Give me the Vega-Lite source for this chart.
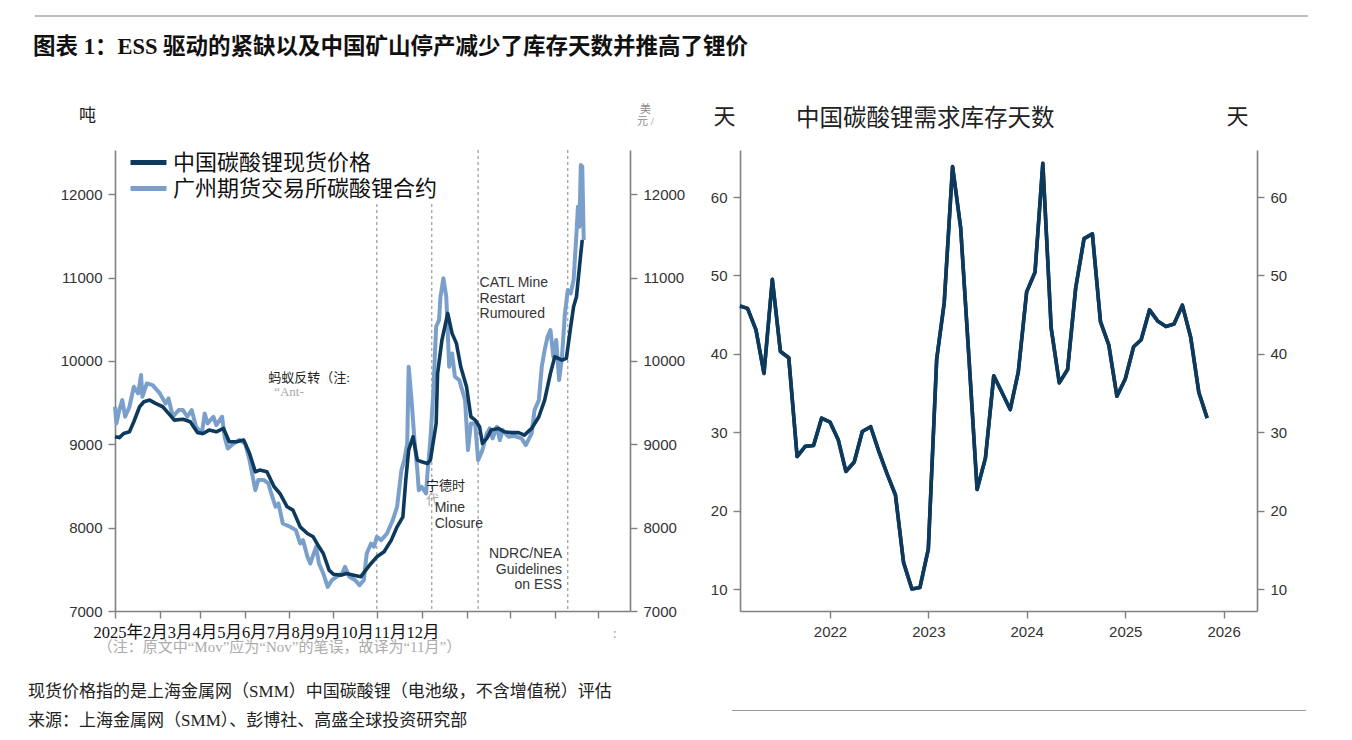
{
  "$schema": "https://vega.github.io/schema/vega-lite/v6.json",
  "background": "white",
  "padding": {"left": 28, "top": 15, "right": 0, "bottom": 0},
  "spacing": 44,
  "resolve": {"scale": {"color": "independent"}, "legend": {"color": "independent"}},
  "config": {
    "view": {"stroke": null},
    "axis": {
      "domainColor": "#808080", "domainWidth": 1.6,
      "tickColor": "#808080", "tickWidth": 1.4, "tickSize": 7,
      "labelFont": "Liberation Sans", "labelFontSize": 15, "labelColor": "#333333", "labelPadding": 6,
      "grid": false,
      "titleFont": "Liberation Serif, Noto Sans CJK SC", "titleFontWeight": "normal", "titleColor": "#222222"
    }
  },
  "datasets": {
    "spot": [
      {"date": "2025-01-01", "price": 9090}, {"date": "2025-01-04", "price": 9080}, {"date": "2025-01-07", "price": 9130},
      {"date": "2025-01-11", "price": 9150}, {"date": "2025-01-14", "price": 9270}, {"date": "2025-01-18", "price": 9450},
      {"date": "2025-01-21", "price": 9510}, {"date": "2025-01-25", "price": 9530}, {"date": "2025-01-29", "price": 9490},
      {"date": "2025-02-03", "price": 9450}, {"date": "2025-02-07", "price": 9370}, {"date": "2025-02-11", "price": 9290},
      {"date": "2025-02-17", "price": 9300}, {"date": "2025-02-22", "price": 9270}, {"date": "2025-02-27", "price": 9140},
      {"date": "2025-03-03", "price": 9130}, {"date": "2025-03-07", "price": 9170}, {"date": "2025-03-12", "price": 9150},
      {"date": "2025-03-17", "price": 9190}, {"date": "2025-03-21", "price": 9030}, {"date": "2025-03-26", "price": 9030},
      {"date": "2025-03-31", "price": 9050}, {"date": "2025-04-04", "price": 8890}, {"date": "2025-04-08", "price": 8670},
      {"date": "2025-04-11", "price": 8690}, {"date": "2025-04-16", "price": 8670}, {"date": "2025-04-21", "price": 8490},
      {"date": "2025-04-25", "price": 8410}, {"date": "2025-04-30", "price": 8250}, {"date": "2025-05-04", "price": 8210},
      {"date": "2025-05-09", "price": 8010}, {"date": "2025-05-14", "price": 7930}, {"date": "2025-05-18", "price": 7890},
      {"date": "2025-05-22", "price": 7770}, {"date": "2025-05-25", "price": 7690}, {"date": "2025-05-29", "price": 7490},
      {"date": "2025-06-01", "price": 7440}, {"date": "2025-06-06", "price": 7430}, {"date": "2025-06-10", "price": 7450},
      {"date": "2025-06-15", "price": 7430}, {"date": "2025-06-20", "price": 7410}, {"date": "2025-06-22", "price": 7460},
      {"date": "2025-06-27", "price": 7570}, {"date": "2025-07-01", "price": 7650}, {"date": "2025-07-06", "price": 7710},
      {"date": "2025-07-11", "price": 7850}, {"date": "2025-07-15", "price": 8010}, {"date": "2025-07-19", "price": 8130},
      {"date": "2025-07-21", "price": 8570}, {"date": "2025-07-23", "price": 8930}, {"date": "2025-07-26", "price": 9090},
      {"date": "2025-07-29", "price": 8810}, {"date": "2025-08-01", "price": 8790}, {"date": "2025-08-05", "price": 8770},
      {"date": "2025-08-07", "price": 8810}, {"date": "2025-08-11", "price": 9250}, {"date": "2025-08-12", "price": 9850},
      {"date": "2025-08-15", "price": 10250}, {"date": "2025-08-19", "price": 10570}, {"date": "2025-08-22", "price": 10330},
      {"date": "2025-08-25", "price": 10210}, {"date": "2025-08-28", "price": 9930}, {"date": "2025-09-01", "price": 9690},
      {"date": "2025-09-04", "price": 9330}, {"date": "2025-09-07", "price": 9290}, {"date": "2025-09-10", "price": 9210},
      {"date": "2025-09-12", "price": 9010}, {"date": "2025-09-15", "price": 9070}, {"date": "2025-09-18", "price": 9170},
      {"date": "2025-09-23", "price": 9190}, {"date": "2025-09-27", "price": 9150}, {"date": "2025-10-02", "price": 9140},
      {"date": "2025-10-07", "price": 9140}, {"date": "2025-10-11", "price": 9110}, {"date": "2025-10-16", "price": 9190},
      {"date": "2025-10-21", "price": 9330}, {"date": "2025-10-25", "price": 9530}, {"date": "2025-10-29", "price": 9850},
      {"date": "2025-11-01", "price": 10050}, {"date": "2025-11-06", "price": 10010}, {"date": "2025-11-09", "price": 10030},
      {"date": "2025-11-12", "price": 10410}, {"date": "2025-11-14", "price": 10650}, {"date": "2025-11-16", "price": 10770},
      {"date": "2025-11-19", "price": 11290}, {"date": "2025-11-20", "price": 11450}
    ],
    "futures": [
      {"date": "2025-01-01", "price": 9450}, {"date": "2025-01-02", "price": 9250}, {"date": "2025-01-04", "price": 9410},
      {"date": "2025-01-06", "price": 9530}, {"date": "2025-01-08", "price": 9330}, {"date": "2025-01-11", "price": 9450},
      {"date": "2025-01-14", "price": 9690}, {"date": "2025-01-17", "price": 9610}, {"date": "2025-01-19", "price": 9830},
      {"date": "2025-01-20", "price": 9570}, {"date": "2025-01-23", "price": 9730}, {"date": "2025-01-27", "price": 9710},
      {"date": "2025-02-01", "price": 9610}, {"date": "2025-02-05", "price": 9490}, {"date": "2025-02-07", "price": 9550},
      {"date": "2025-02-10", "price": 9330}, {"date": "2025-02-14", "price": 9410}, {"date": "2025-02-17", "price": 9410},
      {"date": "2025-02-20", "price": 9330}, {"date": "2025-02-23", "price": 9410}, {"date": "2025-02-26", "price": 9210},
      {"date": "2025-03-02", "price": 9130}, {"date": "2025-03-04", "price": 9370}, {"date": "2025-03-06", "price": 9250},
      {"date": "2025-03-10", "price": 9330}, {"date": "2025-03-12", "price": 9230}, {"date": "2025-03-16", "price": 9330},
      {"date": "2025-03-18", "price": 9070}, {"date": "2025-03-20", "price": 8950}, {"date": "2025-03-24", "price": 9010},
      {"date": "2025-03-28", "price": 9050}, {"date": "2025-04-01", "price": 9010}, {"date": "2025-04-04", "price": 8810},
      {"date": "2025-04-08", "price": 8450}, {"date": "2025-04-10", "price": 8570}, {"date": "2025-04-14", "price": 8570},
      {"date": "2025-04-17", "price": 8530}, {"date": "2025-04-19", "price": 8410}, {"date": "2025-04-22", "price": 8250},
      {"date": "2025-04-24", "price": 8290}, {"date": "2025-04-27", "price": 8050}, {"date": "2025-05-02", "price": 8010},
      {"date": "2025-05-06", "price": 7970}, {"date": "2025-05-09", "price": 7810}, {"date": "2025-05-11", "price": 7850},
      {"date": "2025-05-14", "price": 7650}, {"date": "2025-05-16", "price": 7570}, {"date": "2025-05-20", "price": 7770},
      {"date": "2025-05-22", "price": 7570}, {"date": "2025-05-25", "price": 7450}, {"date": "2025-05-28", "price": 7290},
      {"date": "2025-05-31", "price": 7370}, {"date": "2025-06-03", "price": 7410}, {"date": "2025-06-07", "price": 7450},
      {"date": "2025-06-09", "price": 7530}, {"date": "2025-06-12", "price": 7410}, {"date": "2025-06-16", "price": 7370},
      {"date": "2025-06-19", "price": 7310}, {"date": "2025-06-22", "price": 7370}, {"date": "2025-06-24", "price": 7690},
      {"date": "2025-06-27", "price": 7810}, {"date": "2025-06-29", "price": 7770}, {"date": "2025-07-01", "price": 7890},
      {"date": "2025-07-04", "price": 7850}, {"date": "2025-07-08", "price": 7930}, {"date": "2025-07-12", "price": 8090},
      {"date": "2025-07-15", "price": 8250}, {"date": "2025-07-18", "price": 8690}, {"date": "2025-07-20", "price": 8810},
      {"date": "2025-07-22", "price": 9010}, {"date": "2025-07-23", "price": 9930}, {"date": "2025-07-25", "price": 9530},
      {"date": "2025-07-27", "price": 9050}, {"date": "2025-07-29", "price": 8690}, {"date": "2025-07-30", "price": 8450},
      {"date": "2025-08-01", "price": 8490}, {"date": "2025-08-04", "price": 8410}, {"date": "2025-08-05", "price": 8650},
      {"date": "2025-08-07", "price": 9050}, {"date": "2025-08-09", "price": 9610}, {"date": "2025-08-11", "price": 10410},
      {"date": "2025-08-13", "price": 10490}, {"date": "2025-08-14", "price": 10770}, {"date": "2025-08-16", "price": 10990},
      {"date": "2025-08-18", "price": 10770}, {"date": "2025-08-20", "price": 9930}, {"date": "2025-08-22", "price": 10090},
      {"date": "2025-08-24", "price": 9810}, {"date": "2025-08-27", "price": 9770}, {"date": "2025-08-31", "price": 9530},
      {"date": "2025-09-02", "price": 8930}, {"date": "2025-09-04", "price": 9250}, {"date": "2025-09-07", "price": 9250},
      {"date": "2025-09-09", "price": 8810}, {"date": "2025-09-12", "price": 8930}, {"date": "2025-09-15", "price": 9130},
      {"date": "2025-09-17", "price": 9190}, {"date": "2025-09-19", "price": 9070}, {"date": "2025-09-22", "price": 9210},
      {"date": "2025-09-24", "price": 9050}, {"date": "2025-09-26", "price": 9170}, {"date": "2025-09-30", "price": 9090},
      {"date": "2025-10-04", "price": 9100}, {"date": "2025-10-09", "price": 9070}, {"date": "2025-10-12", "price": 8990},
      {"date": "2025-10-16", "price": 9130}, {"date": "2025-10-18", "price": 9410}, {"date": "2025-10-21", "price": 9530},
      {"date": "2025-10-23", "price": 9930}, {"date": "2025-10-25", "price": 10130}, {"date": "2025-10-27", "price": 10290},
      {"date": "2025-10-29", "price": 10370}, {"date": "2025-10-31", "price": 10050}, {"date": "2025-11-02", "price": 10250},
      {"date": "2025-11-04", "price": 9770}, {"date": "2025-11-06", "price": 10050}, {"date": "2025-11-08", "price": 10570},
      {"date": "2025-11-10", "price": 10850}, {"date": "2025-11-12", "price": 10810}, {"date": "2025-11-14", "price": 10970},
      {"date": "2025-11-16", "price": 11530}, {"date": "2025-11-17", "price": 11850}, {"date": "2025-11-18", "price": 11610},
      {"date": "2025-11-19", "price": 12350}, {"date": "2025-11-20", "price": 12330}, {"date": "2025-11-21", "price": 11450}
    ],
    "events": [
      {"date": "2025-07-01"}, {"date": "2025-08-08"}, {"date": "2025-09-09"}, {"date": "2025-11-10"}
    ],
    "inventory": [
      {"month": "2021-02-01", "days": 46.1}, {"month": "2021-03-01", "days": 45.8}, {"month": "2021-04-01", "days": 43.1},
      {"month": "2021-05-01", "days": 37.5}, {"month": "2021-06-01", "days": 49.5}, {"month": "2021-07-01", "days": 40.3},
      {"month": "2021-08-01", "days": 39.5}, {"month": "2021-09-01", "days": 26.9}, {"month": "2021-10-01", "days": 28.2},
      {"month": "2021-11-01", "days": 28.3}, {"month": "2021-12-01", "days": 31.8}, {"month": "2022-01-01", "days": 31.3},
      {"month": "2022-02-01", "days": 29.0}, {"month": "2022-03-01", "days": 25.0}, {"month": "2022-04-01", "days": 26.2},
      {"month": "2022-05-01", "days": 30.1}, {"month": "2022-06-01", "days": 30.7}, {"month": "2022-07-01", "days": 27.6},
      {"month": "2022-08-01", "days": 24.7}, {"month": "2022-09-01", "days": 22.0}, {"month": "2022-10-01", "days": 13.4},
      {"month": "2022-11-01", "days": 10.0}, {"month": "2022-12-01", "days": 10.2}, {"month": "2023-01-01", "days": 15.1},
      {"month": "2023-02-01", "days": 39.3}, {"month": "2023-03-01", "days": 46.5}, {"month": "2023-04-01", "days": 63.9},
      {"month": "2023-05-01", "days": 56.1}, {"month": "2023-06-01", "days": 39.4}, {"month": "2023-07-01", "days": 22.7},
      {"month": "2023-08-01", "days": 26.7}, {"month": "2023-09-01", "days": 37.2}, {"month": "2023-10-01", "days": 35.1},
      {"month": "2023-11-01", "days": 32.9}, {"month": "2023-12-01", "days": 37.7}, {"month": "2024-01-01", "days": 47.9},
      {"month": "2024-02-01", "days": 50.4}, {"month": "2024-03-01", "days": 64.3}, {"month": "2024-04-01", "days": 43.3},
      {"month": "2024-05-01", "days": 36.3}, {"month": "2024-06-01", "days": 38.0}, {"month": "2024-07-01", "days": 48.4},
      {"month": "2024-08-01", "days": 54.7}, {"month": "2024-09-01", "days": 55.3}, {"month": "2024-10-01", "days": 44.1},
      {"month": "2024-11-01", "days": 41.1}, {"month": "2024-12-01", "days": 34.6}, {"month": "2025-01-01", "days": 36.8},
      {"month": "2025-02-01", "days": 40.9}, {"month": "2025-03-01", "days": 41.8}, {"month": "2025-04-01", "days": 45.6},
      {"month": "2025-05-01", "days": 44.2}, {"month": "2025-06-01", "days": 43.5}, {"month": "2025-07-01", "days": 43.8},
      {"month": "2025-08-01", "days": 46.2}, {"month": "2025-09-01", "days": 42.1}, {"month": "2025-10-01", "days": 35.1},
      {"month": "2025-11-01", "days": 31.8}
    ]
  },
  "vconcat": [
    {
      "width": 1193,
      "height": 38,
      "layer": [
        {
          "data": {"values": [{}]},
          "mark": {"type": "rule", "color": "#a8a8a8", "strokeWidth": 1.5},
          "encoding": {
            "x": {"datum": -0.0671, "type": "quantitative", "scale": {"domain": [0, 1]}, "axis": null},
            "x2": {"datum": 1},
            "y": {"datum": 1, "type": "quantitative", "scale": {"domain": [0, 1]}, "axis": null}
          }
        },
        {
          "data": {"values": [{"caption": "图表 1：ESS 驱动的紧缺以及中国矿山停产减少了库存天数并推高了锂价"}]},
          "mark": {"type": "text", "align": "left", "baseline": "alphabetic", "font": "Liberation Serif, Noto Sans CJK SC", "fontSize": 22.5, "fontWeight": "bold", "color": "#111111"},
          "encoding": {
            "text": {"field": "caption"},
            "x": {"datum": -0.0687, "type": "quantitative", "scale": {"domain": [0, 1]}, "axis": null},
            "y": {"datum": 0, "type": "quantitative", "scale": {"domain": [0, 1]}, "axis": null}
          }
        }
      ]
    },
    {
      "spacing": 21,
      "resolve": {"scale": {"color": "independent"}, "legend": {"color": "independent"}},
      "vconcat": [
        {
          "spacing": 25,
          "resolve": {"scale": {"color": "independent"}, "legend": {"color": "independent"}},
          "hconcat": [
            {
              "width": 515,
              "height": 461,
              "layer": [
                {
                  "layer": [
                    {
                      "data": {"name": "events"},
                      "mark": {"type": "rule", "strokeDash": [3, 3], "color": "#858585", "strokeWidth": 1},
                      "encoding": {
                        "x": {
                          "field": "date", "type": "temporal",
                          "scale": {"type": "utc", "domain": [{"year": 2025, "month": 1, "date": 1, "utc": true}, {"year": 2025, "month": 12, "date": 23, "utc": true}]},
                          "axis": {
                            "tickCount": {"interval": "month", "step": 1}, "labels": false,
                            "title": "2025年2月3月4月5月6月7月8月9月10月11月12月",
                            "titleX": -22, "titleY": 21, "titleAlign": "left", "titleAnchor": "start", "titleBaseline": "middle",
                            "titleFontSize": 16.5, "titleColor": "#111111"
                          }
                        }
                      }
                    },
                    {
                      "data": {"name": "futures"},
                      "mark": {"type": "line", "strokeWidth": 4, "strokeJoin": "round"},
                      "encoding": {
                        "x": {"field": "date", "type": "temporal", "scale": {"type": "utc", "domain": [{"year": 2025, "month": 1, "date": 1, "utc": true}, {"year": 2025, "month": 12, "date": 23, "utc": true}]}},
                        "y": {
                          "field": "price", "type": "quantitative",
                          "scale": {"domain": [7000, 12530], "nice": false, "zero": false},
                          "axis": {
                            "orient": "right", "values": [7000, 8000, 9000, 10000, 11000, 12000], "format": "d",
                            "title": ["美", "元 /"], "titleAngle": 0, "titleX": 15, "titleY": -47, "titleAlign": "center", "titleBaseline": "top",
                            "titleFontSize": 11, "titleColor": "#8a8a8a", "titleLineHeight": 12
                          }
                        },
                        "color": {
                          "datum": "广州期货交易所碳酸锂合约",
                          "scale": {"domain": ["中国碳酸锂现货价格", "广州期货交易所碳酸锂合约"], "range": ["#0d3a5c", "#7a9fcb"]},
                          "legend": {
                            "orient": "none", "legendX": 23, "legendY": -3, "title": null,
                            "symbolType": "M-2.09,0H1.18", "symbolSize": 484, "symbolStrokeWidth": 5,
                            "labelFont": "Noto Sans CJK SC", "labelFontSize": 22, "labelColor": "#111111", "labelOffset": 6, "labelLimit": 400,
                            "rowPadding": 1, "padding": 2, "fillColor": "white", "strokeColor": null, "zindex": 1
                          }
                        }
                      }
                    }
                  ]
                },
                {
                  "layer": [
                    {
                      "data": {"name": "spot"},
                      "mark": {"type": "line", "strokeWidth": 3.6, "strokeJoin": "round"},
                      "encoding": {
                        "x": {"field": "date", "type": "temporal", "scale": {"type": "utc", "domain": [{"year": 2025, "month": 1, "date": 1, "utc": true}, {"year": 2025, "month": 12, "date": 23, "utc": true}]}},
                        "y": {
                          "field": "price", "type": "quantitative",
                          "scale": {"domain": [7000, 12530], "nice": false, "zero": false},
                          "axis": {
                            "orient": "left", "values": [7000, 8000, 9000, 10000, 11000, 12000], "format": "d",
                            "title": "吨", "titleAngle": 0, "titleX": -28, "titleY": -35, "titleAlign": "center", "titleBaseline": "middle",
                            "titleFontSize": 17
                          }
                        },
                        "color": {
                          "datum": "中国碳酸锂现货价格",
                          "scale": {"domain": ["中国碳酸锂现货价格", "广州期货交易所碳酸锂合约"], "range": ["#0d3a5c", "#7a9fcb"]}
                        }
                      }
                    },
                    {
                      "data": {"values": [
                        {"date": "2025-04-17", "price": 9794, "note": "蚂蚁反转（注:"},
                        {"date": "2025-08-04", "price": 8499, "note": "宁德时"}
                      ]},
                      "mark": {"type": "text", "align": "left", "baseline": "middle", "font": "Liberation Serif, Noto Sans CJK SC", "fontSize": 13, "color": "#222222"},
                      "encoding": {
                        "x": {"field": "date", "type": "temporal", "scale": {"type": "utc", "domain": [{"year": 2025, "month": 1, "date": 1, "utc": true}, {"year": 2025, "month": 12, "date": 23, "utc": true}]}},
                        "y": {"field": "price", "type": "quantitative", "scale": {"domain": [7000, 12530], "nice": false, "zero": false}},
                        "text": {"field": "note"}
                      }
                    },
                    {
                      "data": {"values": [
                        {"date": "2025-04-21", "price": 9626, "note": "“Ant-"},
                        {"date": "2025-08-04", "price": 8330, "note": "代"}
                      ]},
                      "mark": {"type": "text", "align": "left", "baseline": "middle", "font": "Liberation Serif, Noto Sans CJK SC", "fontSize": 13, "color": "#a8a8a8"},
                      "encoding": {
                        "x": {"field": "date", "type": "temporal", "scale": {"type": "utc", "domain": [{"year": 2025, "month": 1, "date": 1, "utc": true}, {"year": 2025, "month": 12, "date": 23, "utc": true}]}},
                        "y": {"field": "price", "type": "quantitative", "scale": {"domain": [7000, 12530], "nice": false, "zero": false}},
                        "text": {"field": "note"}
                      }
                    },
                    {
                      "data": {"values": [
                        {"date": "2025-09-10", "price": 11017, "note": "CATL Mine\nRestart\nRumoured"},
                        {"date": "2025-08-10", "price": 8319, "note": "Mine\nClosure"}
                      ]},
                      "mark": {"type": "text", "align": "left", "baseline": "top", "lineBreak": "\n", "lineHeight": 15.5, "font": "Liberation Sans", "fontSize": 14, "color": "#333333"},
                      "encoding": {
                        "x": {"field": "date", "type": "temporal", "scale": {"type": "utc", "domain": [{"year": 2025, "month": 1, "date": 1, "utc": true}, {"year": 2025, "month": 12, "date": 23, "utc": true}]}},
                        "y": {"field": "price", "type": "quantitative", "scale": {"domain": [7000, 12530], "nice": false, "zero": false}},
                        "text": {"field": "note"}
                      }
                    },
                    {
                      "data": {"values": [
                        {"date": "2025-11-06", "price": 7767, "note": "NDRC/NEA\nGuidelines\non ESS"}
                      ]},
                      "mark": {"type": "text", "align": "right", "baseline": "top", "lineBreak": "\n", "lineHeight": 15.5, "font": "Liberation Sans", "fontSize": 14, "color": "#333333"},
                      "encoding": {
                        "x": {"field": "date", "type": "temporal", "scale": {"type": "utc", "domain": [{"year": 2025, "month": 1, "date": 1, "utc": true}, {"year": 2025, "month": 12, "date": 23, "utc": true}]}},
                        "y": {"field": "price", "type": "quantitative", "scale": {"domain": [7000, 12530], "nice": false, "zero": false}},
                        "text": {"field": "note"}
                      }
                    },
                    {
                      "data": {"values": [
                        {"date": "2024-12-20", "price": 6565, "note": "（注：原文中“Mov”应为“Nov”的笔误，故译为“11月”）"},
                        {"date": "2025-12-11", "price": 6736, "note": ":"}
                      ]},
                      "mark": {"type": "text", "align": "left", "baseline": "middle", "font": "Liberation Serif, Noto Sans CJK SC", "fontSize": 15, "color": "#ababab"},
                      "encoding": {
                        "x": {"field": "date", "type": "temporal", "scale": {"type": "utc", "domain": [{"year": 2025, "month": 1, "date": 1, "utc": true}, {"year": 2025, "month": 12, "date": 23, "utc": true}]}},
                        "y": {"field": "price", "type": "quantitative", "scale": {"domain": [7000, 12530], "nice": false, "zero": false}},
                        "text": {"field": "note"}
                      }
                    }
                  ]
                }
              ],
              "resolve": {"scale": {"y": "independent"}}
            },
            {
              "width": 517,
              "height": 461,
              "title": {
                "text": "中国碳酸锂需求库存天数", "anchor": "start", "frame": "group", "dx": 56, "offset": -25,
                "font": "Noto Sans CJK SC", "fontSize": 23.5, "fontWeight": "normal", "color": "#222222"
              },
              "data": {"name": "inventory"},
              "layer": [
                {
                  "mark": {"type": "line", "color": "#0d3a5c", "strokeWidth": 3.6, "strokeJoin": "round"},
                  "encoding": {
                    "x": {
                      "field": "month", "type": "temporal",
                      "scale": {"type": "utc", "domain": [{"year": 2021, "month": 2, "date": 1, "utc": true}, {"year": 2026, "month": 5, "date": 5, "utc": true}]},
                      "axis": {"tickCount": {"interval": "year", "step": 1}, "format": "%Y", "title": null}
                    },
                    "y": {
                      "field": "days", "type": "quantitative",
                      "scale": {"domain": [7.2, 66], "nice": false, "zero": false},
                      "axis": {
                        "orient": "left", "values": [10, 20, 30, 40, 50, 60],
                        "title": "天", "titleAngle": 0, "titleX": -16, "titleY": -34, "titleAlign": "center", "titleBaseline": "middle",
                        "titleFont": "Noto Sans CJK SC", "titleFontSize": 22
                      }
                    }
                  }
                },
                {
                  "mark": {"type": "line", "color": "#0d3a5c", "strokeWidth": 3.6, "strokeJoin": "round"},
                  "encoding": {
                    "x": {
                      "field": "month", "type": "temporal",
                      "scale": {"type": "utc", "domain": [{"year": 2021, "month": 2, "date": 1, "utc": true}, {"year": 2026, "month": 5, "date": 5, "utc": true}]}
                    },
                    "y": {
                      "field": "days", "type": "quantitative",
                      "scale": {"domain": [7.2, 66], "nice": false, "zero": false},
                      "axis": {
                        "orient": "right", "values": [10, 20, 30, 40, 50, 60],
                        "title": "天", "titleAngle": 0, "titleX": -20, "titleY": -34, "titleAlign": "center", "titleBaseline": "middle",
                        "titleFont": "Noto Sans CJK SC", "titleFontSize": 22
                      }
                    }
                  }
                }
              ],
              "resolve": {"scale": {"y": "independent"}}
            }
          ]
        },
        {
          "width": 1191,
          "height": 58,
          "layer": [
            {
              "data": {"values": [{"note": "现货价格指的是上海金属网（SMM）中国碳酸锂（电池级，不含增值税）评估"}]},
              "mark": {"type": "text", "align": "left", "baseline": "middle", "font": "Liberation Serif, Noto Sans CJK SC", "fontSize": 17, "color": "#222222"},
              "encoding": {
                "text": {"field": "note"},
                "x": {"datum": -0.073, "type": "quantitative", "scale": {"domain": [0, 1]}, "axis": null},
                "y": {"datum": 1, "type": "quantitative", "scale": {"domain": [0, 4], "reverse": true}, "axis": null}
              }
            },
            {
              "data": {"values": [{"note": "来源：上海金属网（SMM）、彭博社、高盛全球投资研究部"}]},
              "mark": {"type": "text", "align": "left", "baseline": "middle", "font": "Liberation Serif, Noto Sans CJK SC", "fontSize": 17, "color": "#222222"},
              "encoding": {
                "text": {"field": "note"},
                "x": {"datum": -0.073, "type": "quantitative", "scale": {"domain": [0, 1]}, "axis": null},
                "y": {"datum": 3, "type": "quantitative", "scale": {"domain": [0, 4], "reverse": true}, "axis": null}
              }
            },
            {
              "data": {"values": [{}]},
              "mark": {"type": "rule", "color": "#9a9a9a", "strokeWidth": 1.2},
              "encoding": {
                "x": {"datum": 0.518, "type": "quantitative", "scale": {"domain": [0, 1]}, "axis": null},
                "x2": {"datum": 1},
                "y": {"datum": 2.31, "type": "quantitative", "scale": {"domain": [0, 4], "reverse": true}, "axis": null}
              }
            }
          ]
        }
      ]
    }
  ]
}
